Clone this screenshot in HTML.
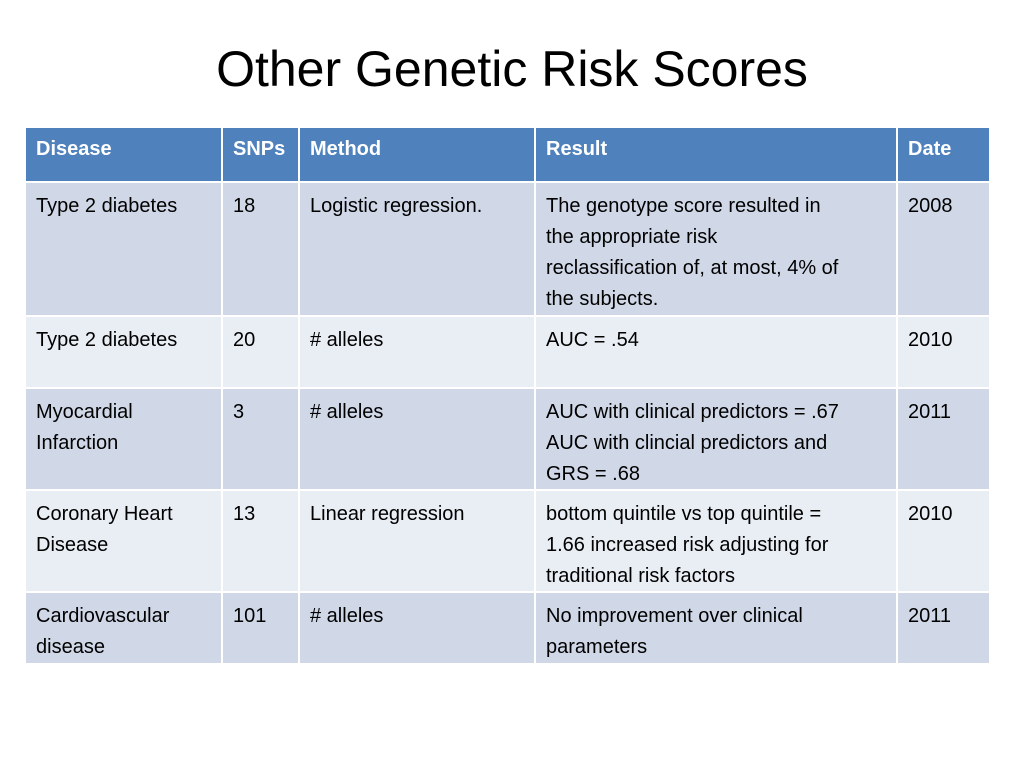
<!DOCTYPE html>
<html><head><meta charset="utf-8"><style>
body{margin:0;width:1024px;height:768px;background:#fff;position:relative;overflow:hidden;font-family:"Liberation Sans",sans-serif;}
h1{position:absolute;left:0;width:1024px;top:40px;margin:0;text-align:center;font-weight:normal;font-size:50px;color:#000;}
.c{position:absolute;box-sizing:border-box;padding:8px 0 0 10px;font-size:20px;line-height:31px;color:#000;white-space:nowrap;overflow:hidden;}
.h{background:#4f81bd;color:#fff;font-weight:bold;padding-top:6px;}
.d{background:#d0d8e8;}
.l{background:#e9edf4;}
</style></head><body>
<h1>Other Genetic Risk Scores</h1>
<div id="t"></div>
<script>
const xs=[[26,221],[223,298],[300,534],[536,896],[898,989]];
const ys=[[128,181],[183,315],[317,387],[389,489],[491,591],[593,663]];
const rows=[
["Disease","SNPs","Method","Result","Date"],
["Type 2 diabetes","18","Logistic regression.","The genotype score resulted in<br>the appropriate risk<br>reclassification of, at most, 4% of<br>the subjects.","2008"],
["Type 2 diabetes","20","# alleles","AUC = .54","2010"],
["Myocardial<br>Infarction","3","# alleles","AUC with clinical predictors = .67<br>AUC with clincial predictors and<br>GRS = .68","2011"],
["Coronary Heart<br>Disease","13","Linear regression","bottom quintile vs top quintile =<br>1.66 increased risk adjusting for<br>traditional risk factors","2010"],
["Cardiovascular<br>disease","101","# alleles","No improvement over clinical<br>parameters","2011"]];
const colNames=["disease","snps","method","result","date"];
const t=document.getElementById('t');
rows.forEach((r,i)=>{r.forEach((txt,j)=>{
const el=document.createElement('div');
el.className='c '+(i==0?'h':(i%2?'d':'l'));
el.style.left=xs[j][0]+'px';el.style.width=(xs[j][1]-xs[j][0])+'px';
el.style.top=ys[i][0]+'px';el.style.height=(ys[i][1]-ys[i][0])+'px';
el.innerHTML=txt;


t.appendChild(el);});});
</script>
</body></html>
